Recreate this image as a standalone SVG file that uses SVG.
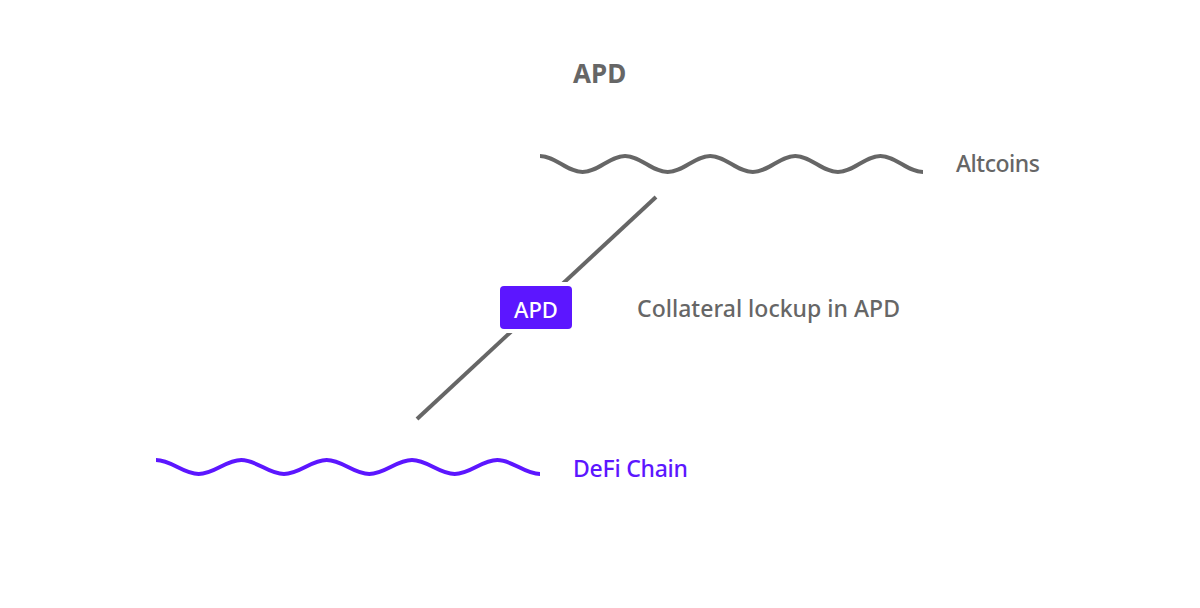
<svg xmlns="http://www.w3.org/2000/svg" width="1200" height="608" viewBox="0 0 1200 608">
<style>
.wave{fill:none;stroke-width:4;stroke-linecap:butt}
.gray{stroke:#666666}
.purple{stroke:#5c16ff}
.t{font-family:"Noto Sans","Liberation Sans",sans-serif;font-size:23px;font-weight:500;fill:#666666}
.title{font-family:"Noto Sans","Liberation Sans",sans-serif;font-size:26px;font-weight:bold;fill:#666666}
</style>
<rect width="1200" height="608" fill="#ffffff"/>
<text class="title" x="573" y="83">APD</text>
<g id="connectors">
<line x1="656" y1="197" x2="417" y2="419" stroke="#666666" stroke-width="4"/>
</g>
<g id="altcoins">
<path class="wave gray" d="M540,156 C555.5,156 567.1,172 582.6,172 S609.6,156 625.1,156 S652.2,172 667.7,172 S694.7,156 710.2,156 S737.3,172 752.8,172 S779.8,156 795.3,156 S822.4,172 837.9,172 S864.9,156 880.4,156 S907.5,172 923,172"/>
<text class="t" x="956" y="172" textLength="84">Altcoins</text>
</g>
<g id="defi-chain">
<path class="wave purple" d="M156,460 C171.5,460 183.2,474 198.7,474 S225.8,460 241.3,460 S268.5,474 284,474 S311.2,460 326.7,460 S353.8,474 369.3,474 S396.5,460 412,460 S439.2,474 454.7,474 S481.8,460 497.3,460 S524.5,474 540,474"/>
<text class="t" x="573" y="477" style="fill:#5c16ff" textLength="115">DeFi Chain</text>
</g>
<g id="apd-box">
<rect x="496" y="282" width="80" height="51" rx="6" fill="#ffffff"/>
<rect x="500" y="286" width="72" height="43" rx="4" fill="#5c16ff"/>
<text x="536" y="318" text-anchor="middle" font-family="Noto Sans, Liberation Sans, sans-serif" font-size="22" font-weight="500" fill="#ffffff">APD</text>
</g>
<g id="collateral-label">
<text class="t" x="637" y="317" textLength="263">Collateral lockup in APD</text>
</g>
</svg>
